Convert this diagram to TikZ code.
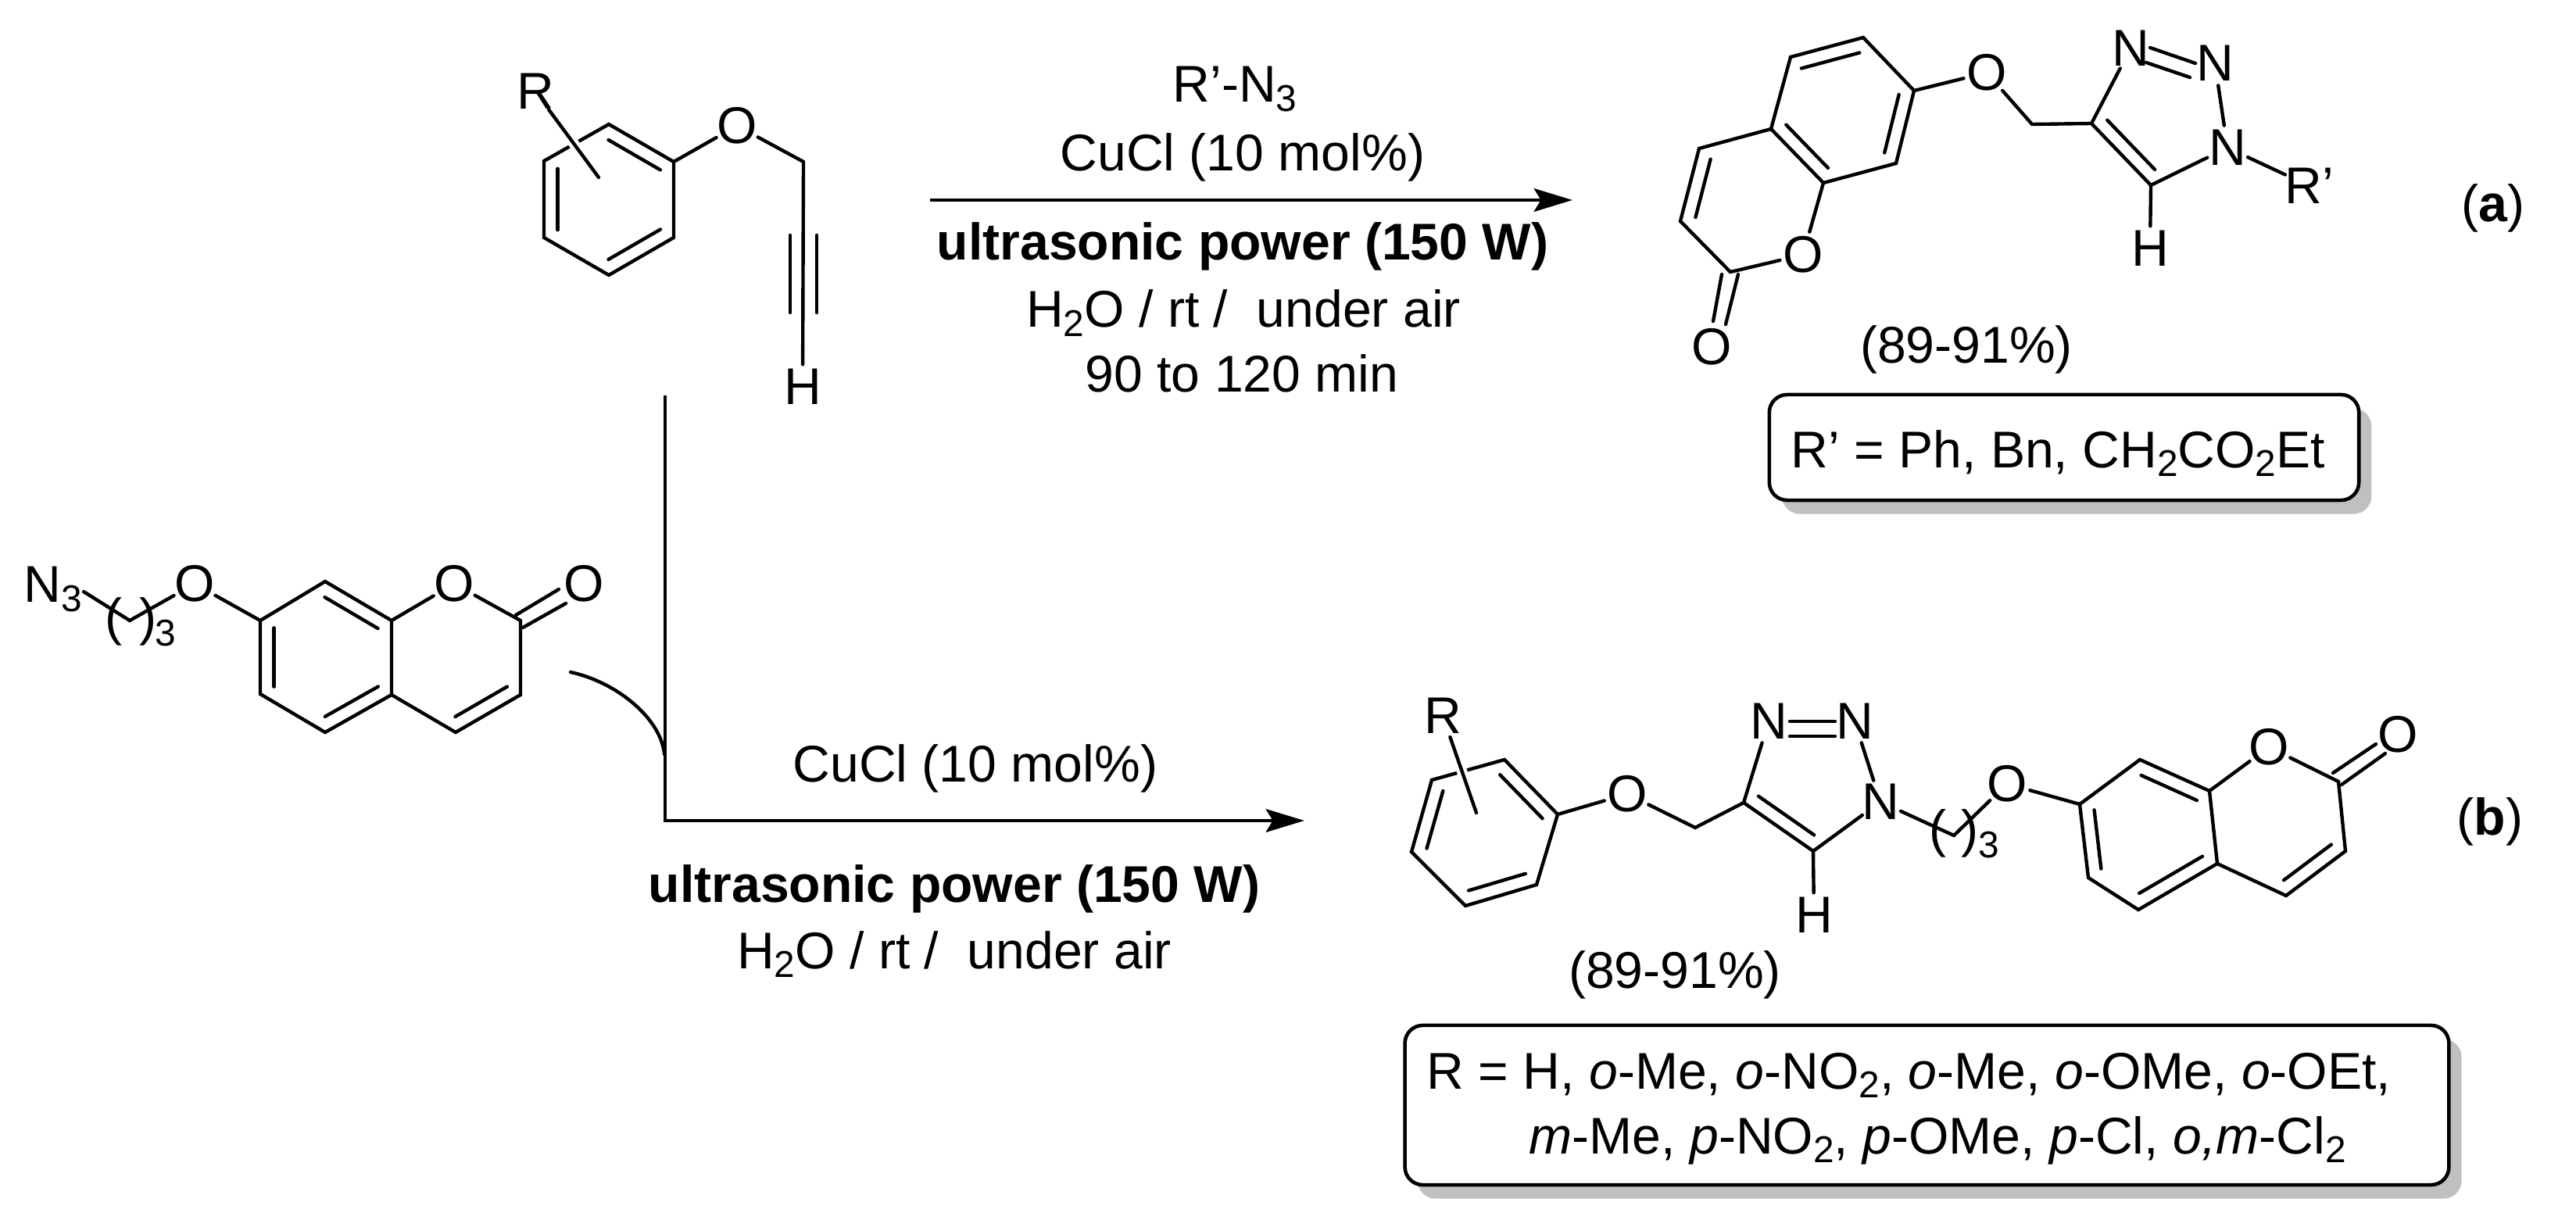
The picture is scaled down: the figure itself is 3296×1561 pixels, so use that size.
\documentclass[tikz,border=0pt]{standalone}
\usepackage{fontspec}
\setmainfont{Liberation Sans}
\usetikzlibrary{arrows.meta,calc,shadows}

\definecolor{boxgray}{RGB}{192,192,192}
\newcommand{\chemfont}{\fontsize{18.8}{22}\selectfont}
\newcommand{\subfont}{\fontsize{13.6}{16}\selectfont}
\newcommand{\lowidx}[1]{\raisebox{-3.4pt}{\subfont #1}}
% second line of a double bond, on the right hand side of #1 -> #2
\newcommand{\innerbond}[2]{\draw[bond] ($(#1)!.1!(#2)!5pt!-90:(#2)$) -- ($(#2)!.1!(#1)!5pt!90:(#1)$);}

\tikzset{
    bond/.style={line width=1.25pt, line cap=round},
    halo/.style={white, line width=3.8pt},
    arrowline/.style={line width=1.4pt, -{Stealth[length=14pt,width=8.4pt,inset=2.5pt]}},
    atom/.style={circle, inner sep=-1pt, font=\chemfont},
    txt/.style={inner sep=0pt, anchor=base, font=\chemfont},
    lefttxt/.style={txt, anchor=base west},
    idx/.style={inner sep=0pt, anchor=base, font=\subfont},
    resultbox/.style={draw, line width=1.3pt, fill=white, rounded corners=6.5pt, inner sep=0pt,
        drop shadow={shadow xshift=4.6pt, shadow yshift=-5pt, fill=boxgray, opacity=1}},
}

\begin{document}
\begin{tikzpicture}[x=0.01cm, y=-0.01cm]
    \useasboundingbox (0,0) rectangle (3296,1561);

    % alkyne
    \node[atom] (rOne) at (685,117) {R};
    \node[atom] (oOne) at (943,161) {O};
    \node[atom] (hOne) at (1027,495) {H};
    \coordinate (a1) at (779,159); \coordinate (a2) at (862,207); \coordinate (a3) at (862,304);
    \coordinate (a4) at (779,352); \coordinate (a5) at (696,304); \coordinate (a6) at (696,206);
    \coordinate (rinA) at (766,227); \coordinate (b1) at (1028,207);
    \coordinate (tripA) at (1011,301); \coordinate (tripB) at (1011,400);
    \coordinate (tripC) at (1045,301); \coordinate (tripD) at (1045,400);
    \draw[bond] (a1) -- (a2) -- (a3) -- (a4) -- (a5) -- (a6) -- cycle;
    \innerbond{a1}{a2} \innerbond{a3}{a4} \innerbond{a5}{a6}
    \draw[halo] (rOne) -- (rinA);
    \draw[bond] (rOne) -- (rinA);
    \draw[bond] (a2) -- (oOne);
    \draw[bond] (oOne) -- (b1);
    \draw[bond] (b1) -- (hOne);
    \draw[bond] (tripA) -- (tripB);
    \draw[bond] (tripC) -- (tripD);

    % azide
    \node[lefttxt] (nThree) at (30,771) {N\lowidx{3}};
    \node[atom] (oChain) at (249,747) {O};
    \node[atom] (oRing) at (581,747) {O};
    \node[atom] (oCarb) at (747,747) {O};
    \node[txt] (parA) at (146,812) {(};
    \node[txt] (parB) at (190,812) {)};
    \node[idx] (idxA) at (212,826) {3};
    \coordinate (chainA) at (107,757); \coordinate (chainB) at (166,794);
    \coordinate (c1) at (333,794); \coordinate (c2) at (416,744); \coordinate (c3) at (501,794);
    \coordinate (c4) at (501,889); \coordinate (c5) at (416,937); \coordinate (c6) at (333,888);
    \coordinate (c7) at (666,794); \coordinate (c8) at (666,889); \coordinate (c9) at (583,937);
    \coordinate (dblA) at (660,787); \coordinate (dblB) at (715,754);
    \coordinate (dblC) at (669,803); \coordinate (dblD) at (724,772);
    \draw[bond] (chainA) -- (chainB) -- (oChain);
    \draw[bond] (oChain) -- (c1);
    \draw[bond] (c1) -- (c2) -- (c3) -- (c4) -- (c5) -- (c6) -- cycle;
    \draw[bond] (c3) -- (oRing);
    \draw[bond] (oRing) -- (c7);
    \draw[bond] (c7) -- (c8) -- (c9) -- (c4);
    \draw[bond] (dblA) -- (dblB);
    \draw[bond] (dblC) -- (dblD);
    \innerbond{c2}{c3} \innerbond{c4}{c5} \innerbond{c6}{c1} \innerbond{c8}{c9}

    % product (a)
    \node[atom] (oEthA) at (2542,93) {O};
    \node[atom] (oRingA) at (2307,326) {O};
    \node[atom] (oCarbA) at (2190,444) {O};
    \node[atom] (nA) at (2726,62) {N};
    \node[atom] (nB) at (2834,81) {N};
    \node[atom] (nC) at (2850,189) {N};
    \node[atom] (hA) at (2751,318) {H};
    \node[atom] (rPrime) at (2955,238) {R'};
    \coordinate (d1) at (2291,73); \coordinate (d2) at (2384,48); \coordinate (d3) at (2449,116);
    \coordinate (d4) at (2426,209); \coordinate (d5) at (2333,234); \coordinate (d6) at (2266,165);
    \coordinate (d7) at (2174,190); \coordinate (d8) at (2150,283); \coordinate (d9) at (2214,348);
    \coordinate (e1) at (2600,159); \coordinate (e2) at (2676,158); \coordinate (e3) at (2752,237);
    \coordinate (dblE) at (2203,351); \coordinate (dblF) at (2192,411);
    \coordinate (dblG) at (2224,351); \coordinate (dblH) at (2208,415);
    \coordinate (dblI) at (2751,61); \coordinate (dblJ) at (2809,81);
    \coordinate (dblK) at (2746,80); \coordinate (dblL) at (2802,99);
    \draw[bond] (d1) -- (d2) -- (d3) -- (d4) -- (d5) -- (d6) -- cycle;
    \draw[bond] (d6) -- (d7) -- (d8) -- (d9);
    \draw[bond] (d5) -- (oRingA);
    \draw[bond] (oRingA) -- (d9);
    \draw[bond] (dblE) -- (dblF);
    \draw[bond] (dblG) -- (dblH);
    \draw[bond] (d3) -- (oEthA);
    \draw[bond] (oEthA) -- (e1) -- (e2);
    \draw[bond] (e2) -- (nA);
    \draw[bond] (dblI) -- (dblJ);
    \draw[bond] (dblK) -- (dblL);
    \draw[bond] (nB) -- (nC);
    \draw[bond] (nC) -- (e3) -- (e2);
    \draw[bond] (e3) -- (hA);
    \draw[bond] (nC) -- (rPrime);
    \innerbond{d1}{d2} \innerbond{d3}{d4} \innerbond{d5}{d6} \innerbond{d8}{d7} \innerbond{e3}{e2}
    \node[txt] (yieldA) at (2516,465) {(89-91\%)};
    \node[txt] (labelA) at (3190,284) {(\textbf{a})};
    \node[resultbox, minimum width=7.54cm, minimum height=1.35cm] (boxA) at (2641,572.5) {};
    \node[lefttxt] (boxTextA) at (2291,598) {R' = Ph, Bn, CH\lowidx{2}CO\lowidx{2}Et};

    % product (b)
    \node[atom] (rB) at (1846,916) {R};
    \node[atom] (oB) at (2082,1016) {O};
    \node[atom] (nD) at (2263,923) {N};
    \node[atom] (nE) at (2373,923) {N};
    \node[atom] (nF) at (2406,1026) {N};
    \node[atom] (hB) at (2321,1171) {H};
    \node[atom] (oC) at (2568,1003) {O};
    \node[atom] (oRingB) at (2903,956) {O};
    \node[atom] (oCarbB) at (3068,940) {O};
    \node[txt] (parC) at (2479,1083) {(};
    \node[txt] (parD) at (2520,1083) {)};
    \node[idx] (idxB) at (2545,1097) {3};
    \coordinate (f1) at (1925,972); \coordinate (f2) at (1993,1042); \coordinate (f3) at (1966,1132);
    \coordinate (f4) at (1875,1159); \coordinate (f5) at (1806,1090); \coordinate (f6) at (1832,998);
    \coordinate (rinB) at (1889,1040);
    \coordinate (g1) at (2169,1059); \coordinate (g2) at (2231,1027); \coordinate (g3) at (2320,1089);
    \coordinate (g4) at (2500,1069); \coordinate (g5) at (2439,1039);
    \coordinate (k1) at (2661,1029); \coordinate (k2) at (2738,972); \coordinate (k3) at (2827,1012);
    \coordinate (k4) at (2837,1105); \coordinate (k5) at (2736,1164); \coordinate (k6) at (2672,1123);
    \coordinate (k7) at (2992,1000); \coordinate (k8) at (3001,1089); \coordinate (k9) at (2925,1146);
    \coordinate (dblM) at (2290,923); \coordinate (dblN) at (2348,923);
    \coordinate (dblO) at (2290,942); \coordinate (dblP) at (2348,942);
    \coordinate (dblQ) at (2985,989); \coordinate (dblR) at (3040,952);
    \coordinate (dblS) at (2996,1004); \coordinate (dblT) at (3052,964);
    \draw[bond] (f1) -- (f2) -- (f3) -- (f4) -- (f5) -- (f6) -- cycle;
    \innerbond{f1}{f2} \innerbond{f3}{f4} \innerbond{f5}{f6}
    \draw[halo] (rB) -- (rinB);
    \draw[bond] (rB) -- (rinB);
    \draw[bond] (f2) -- (oB);
    \draw[bond] (oB) -- (g1) -- (g2);
    \draw[bond] (g2) -- (nD);
    \draw[bond] (dblM) -- (dblN);
    \draw[bond] (dblO) -- (dblP);
    \draw[bond] (nE) -- (nF);
    \draw[bond] (nF) -- (g3) -- (g2);
    \draw[bond] (g3) -- (hB);
    \draw[bond] (nF) -- (g4);
    \draw[bond] (g4) -- (oC);
    \draw[bond] (oC) -- (k1);
    \draw[bond] (k1) -- (k2) -- (k3) -- (k4) -- (k5) -- (k6) -- cycle;
    \draw[bond] (k3) -- (oRingB);
    \draw[bond] (oRingB) -- (k7);
    \draw[bond] (k7) -- (k8) -- (k9) -- (k4);
    \draw[bond] (dblQ) -- (dblR);
    \draw[bond] (dblS) -- (dblT);
    \innerbond{g3}{g2} \innerbond{k2}{k3} \innerbond{k4}{k5} \innerbond{k6}{k1} \innerbond{k8}{k9}
    \node[txt] (yieldB) at (2143,1264) {(89-91\%)};
    \node[txt] (labelB) at (3186,1068) {(\textbf{b})};
    \node[resultbox, minimum width=13.35cm, minimum height=2.04cm] (boxB) at (2465.5,1414) {};
    \node[lefttxt] (boxTextB) at (1825,1393) {R = H, \textit{o}-Me, \textit{o}-NO\lowidx{2}, \textit{o}-Me, \textit{o}-OMe, \textit{o}-OEt,};
    \node[lefttxt] (boxTextC) at (1956,1476) {\textit{m}-Me, \textit{p}-NO\lowidx{2}, \textit{p}-OMe, \textit{p}-Cl, \textit{o,m}-Cl\lowidx{2}};

    % reaction arrows
    \coordinate (startA) at (1190,256); \coordinate (endA) at (2012,256);
    \draw[arrowline] (startA) -- (endA);
    \node[txt] (condA) at (1580,131) {R'-N\lowidx{3}};
    \node[txt] (condB) at (1590,219) {CuCl (10 mol\%)};
    \node[txt] (condC) at (1590,333) {\textbf{ultrasonic power (150 W)}};
    \node[txt] (condD) at (1591,419) {H\lowidx{2}O / rt /\ \ under air};
    \node[txt] (condE) at (1589,502) {90 to 120 min};

    \coordinate (startB) at (851,506); \coordinate (cornerB) at (851,1050); \coordinate (endB) at (1669,1050);
    \draw[arrowline] (startB) -- (cornerB) -- (endB);
    \coordinate (arcA) at (730,860); \coordinate (arcB) at (850,965);
    \draw[bond] (arcA) .. controls (790,873) and (846,920) .. (arcB);
    \node[txt] (condF) at (1248,1000) {CuCl (10 mol\%)};
    \node[txt] (condG) at (1221,1154) {\textbf{ultrasonic power (150 W)}};
    \node[txt] (condH) at (1221,1239) {H\lowidx{2}O / rt /\ \ under air};
\end{tikzpicture}
\end{document}
